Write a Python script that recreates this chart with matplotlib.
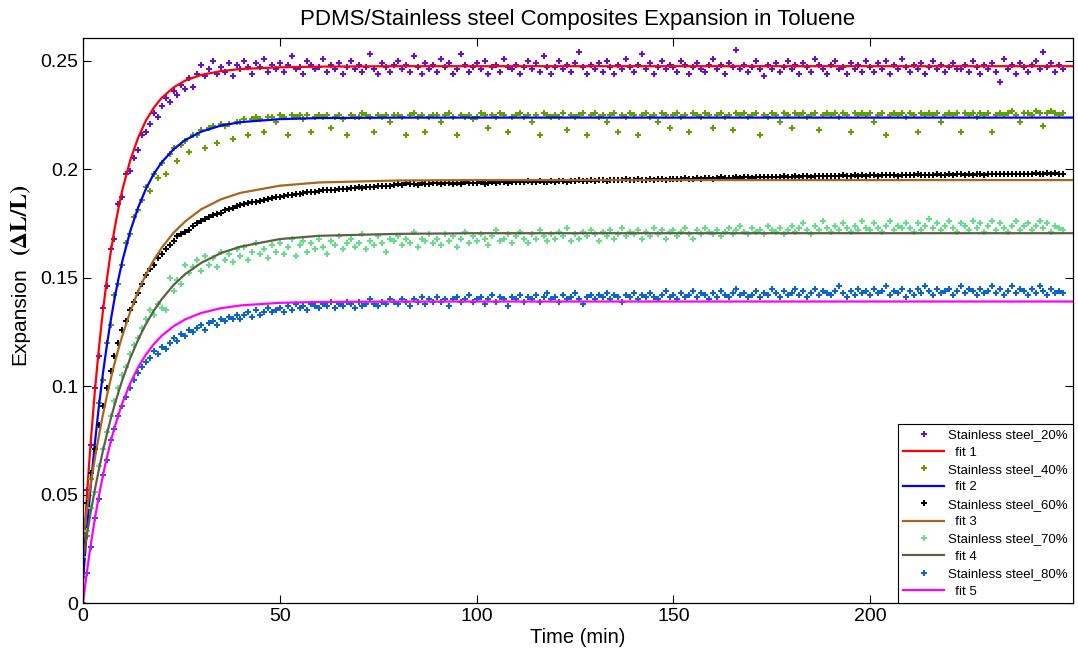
import numpy as np
import matplotlib
matplotlib.use("Agg")
import matplotlib.pyplot as plt

# 폰트 설정 (Arial 대신 Liberation Sans)
plt.rcParams['font.family'] = ['Liberation Sans', 'DejaVu Sans']

# 측정 시간 (분), 1분 간격
time_min = np.arange(0, 250)

# Stainless steel 20% 측정값
ss20 = [.021, .052, .073, .099, .114, .136, .146, .163, .168, .184,
        .187, .198, .199, .205, .209, .216, .217, .221, .226, .224,
        .229, .233, .231, .236, .234, .239, .237, .242, .238, .244,
        .248, .243, .246, .250, .244, .247, .245, .249, .243, .248,
        .246, .250, .247, .244, .249, .247, .251, .245, .248, .246,
        .249, .245, .248, .252, .246, .247, .244, .250, .248, .246,
        .247, .251, .245, .248, .246, .249, .244, .247, .250, .246,
        .248, .245, .247, .253, .246, .244, .249, .247, .245, .248,
        .250, .246, .248, .245, .252, .247, .244, .249, .246, .248,
        .245, .251, .247, .249, .244, .246, .253, .248, .245, .247,
        .249, .246, .250, .244, .247, .248, .245, .251, .247, .246,
        .248, .244, .247, .250, .246, .249, .245, .252, .247, .244,
        .247, .250, .246, .248, .245, .249, .254, .247, .244, .248,
        .246, .249, .245, .250, .247, .244, .248, .246, .251, .247,
        .245, .248, .253, .246, .249, .244, .247, .250, .246, .248,
        .247, .245, .250, .248, .244, .247, .249, .246, .245, .248,
        .251, .246, .248, .244, .249, .247, .255, .246, .248, .245,
        .247, .250, .246, .243, .248, .246, .249, .245, .247, .250,
        .246, .248, .244, .249, .247, .245, .251, .248, .246, .244,
        .248, .250, .246, .247, .244, .249, .246, .248, .245, .250,
        .247, .245, .249, .246, .250, .244, .248, .246, .251, .247,
        .245, .248, .246, .249, .244, .247, .250, .246, .248, .245,
        .247, .249, .246, .246, .248, .245, .250, .247, .244, .248,
        .246, .249, .245, .240, .251, .246, .248, .244, .249, .247,
        .245, .248, .250, .246, .254, .247, .249, .245, .248, .246]

# Stainless steel 40% 측정값
ss40 = [.012, .031, .057, .071, .092, .103, .120, .128, .142, .147,
        .156, .166, .170, .178, .181, .186, .192, .190, .198, .196,
        .203, .198, .207, .210, .204, .211, .213, .208, .216, .216,
        .218, .210, .219, .220, .212, .221, .220, .221, .214, .222,
        .222, .223, .216, .223, .224, .223, .217, .224, .224, .222,
        .225, .224, .216, .225, .224, .225, .223, .225, .217, .224,
        .225, .224, .225, .219, .224, .225, .223, .216, .225, .224,
        .224, .226, .225, .224, .217, .225, .224, .225, .222, .225,
        .225, .224, .216, .225, .226, .224, .225, .217, .224, .225,
        .225, .222, .225, .226, .224, .216, .225, .224, .225, .223,
        .224, .226, .225, .219, .225, .224, .226, .225, .217, .224,
        .225, .226, .224, .225, .222, .225, .216, .226, .225, .224,
        .225, .224, .226, .218, .225, .224, .225, .226, .216, .225,
        .226, .224, .225, .222, .225, .226, .217, .225, .224, .226,
        .225, .216, .225, .226, .224, .225, .222, .226, .225, .219,
        .225, .226, .224, .225, .217, .226, .225, .224, .226, .225,
        .219, .225, .226, .224, .225, .218, .226, .225, .226, .224,
        .225, .226, .216, .225, .224, .226, .225, .222, .226, .225,
        .219, .226, .225, .226, .224, .225, .226, .218, .225, .226,
        .225, .226, .224, .226, .225, .217, .226, .225, .226, .225,
        .226, .222, .225, .226, .216, .225, .226, .225, .226, .224,
        .226, .225, .217, .226, .225, .226, .225, .226, .222, .225,
        .226, .225, .226, .217, .226, .225, .226, .224, .226, .225,
        .226, .217, .225, .226, .225, .226, .227, .225, .222, .226,
        .226, .225, .227, .226, .220, .226, .227, .226, .225, .226]

# Stainless steel 60% 측정값
ss60 = [.0280, .0460, .0600, .0710, .0820, .0910, .0990, .1070, .1140, .1200,
        .1260, .1300, .1350, .1390, .1430, .1470, .1510, .1540, .1560, .1590,
        .1610, .1630, .1650, .1670, .1690, .1700, .1710, .1720, .1740, .1750,
        .1760, .1770, .1780, .1790, .1795, .1800, .1810, .1815, .1820, .1830,
        .1833, .1838, .1842, .1848, .1851, .1855, .1860, .1863, .1867, .1870,
        .1874, .1877, .1880, .1882, .1885, .1888, .1890, .1893, .1895, .1897,
        .1899, .1902, .1904, .1906, .1905, .1909, .1911, .1910, .1913, .1915,
        .1916, .1915, .1918, .1920, .1919, .1922, .1921, .1924, .1923, .1926,
        .1932, .1928, .1935, .1931, .1934, .1929, .1936, .1933, .1930, .1935,
        .1937, .1932, .1935, .1938, .1933, .1936, .1934, .1939, .1935, .1937,
        .1936, .1940, .1934, .1938, .1941, .1937, .1939, .1942, .1938, .1940,
        .1943, .1939, .1941, .1944, .1940, .1942, .1945, .1941, .1943, .1946,
        .1942, .1945, .1947, .1943, .1946, .1944, .1948, .1945, .1947, .1950,
        .1946, .1948, .1951, .1947, .1949, .1952, .1948, .1950, .1953, .1949,
        .1951, .1954, .1950, .1952, .1955, .1951, .1953, .1956, .1952, .1955,
        .1957, .1953, .1956, .1958, .1954, .1957, .1959, .1955, .1958, .1960,
        .1957, .1960, .1962, .1958, .1961, .1959, .1963, .1960, .1962, .1964,
        .1961, .1963, .1965, .1962, .1964, .1966, .1963, .1965, .1967, .1964,
        .1966, .1968, .1965, .1967, .1969, .1966, .1968, .1970, .1967, .1969,
        .1971, .1968, .1970, .1972, .1969, .1971, .1973, .1970, .1972, .1969,
        .1972, .1974, .1971, .1973, .1975, .1972, .1974, .1971, .1973, .1975,
        .1972, .1974, .1976, .1973, .1975, .1972, .1974, .1976, .1973, .1975,
        .1977, .1974, .1976, .1978, .1975, .1977, .1974, .1976, .1978, .1975,
        .1977, .1979, .1976, .1978, .1980, .1977, .1979, .1976, .1978, .1980,
        .1977, .1979, .1981, .1978, .1980, .1982, .1979, .1981, .1978, .1980]

# Stainless steel 70% 측정값
ss70 = [.021, .033, .044, .051, .063, .071, .079, .086, .093, .099,
        .105, .109, .115, .119, .122, .127, .131, .135, .133, .138,
        .136, .135, .150, .144, .149, .147, .156, .152, .155, .158,
        .153, .160, .156, .159, .155, .162, .158, .161, .157, .163,
        .160, .164, .158, .162, .166, .161, .163, .159, .165, .162,
        .166, .161, .164, .168, .160, .165, .167, .162, .166, .163,
        .168, .164, .161, .167, .165, .169, .163, .166, .168, .164,
        .166, .170, .163, .167, .165, .169, .166, .162, .168, .167,
        .169, .165, .168, .166, .171, .164, .168, .167, .170, .166,
        .168, .165, .170, .167, .169, .164, .168, .171, .166, .169,
        .167, .170, .168, .165, .169, .172, .167, .168, .170, .166,
        .169, .171, .168, .166, .170, .168, .172, .169, .167, .170,
        .168, .171, .169, .173, .167, .170, .168, .171, .169, .172,
        .170, .167, .171, .169, .172, .168, .170, .173, .169, .171,
        .170, .172, .168, .171, .169, .173, .170, .172, .168, .171,
        .172, .169, .171, .173, .170, .168, .172, .170, .173, .171,
        .170, .172, .169, .171, .173, .170, .172, .174, .171, .170,
        .173, .171, .172, .170, .174, .172, .171, .173, .170, .172,
        .174, .171, .173, .175, .172, .170, .174, .172, .176, .173,
        .171, .174, .172, .175, .173, .171, .174, .172, .176, .173,
        .172, .175, .173, .171, .174, .176, .172, .174, .173, .175,
        .173, .171, .175, .172, .174, .177, .173, .175, .172, .174,
        .176, .173, .171, .175, .174, .172, .176, .173, .175, .171,
        .174, .176, .172, .175, .173, .171, .174, .176, .172, .174,
        .175, .172, .174, .176, .173, .175, .171, .174, .173, .172]

# Stainless steel 80% 측정값
ss80 = [.000, .014, .026, .039, .048, .059, .066, .075, .080, .086,
        .091, .095, .099, .103, .106, .109, .111, .113, .116, .115,
        .118, .117, .120, .122, .121, .124, .123, .126, .125, .127,
        .128, .126, .129, .130, .128, .131, .130, .132, .131, .133,
        .131, .133, .134, .132, .135, .133, .134, .136, .134, .135,
        .136, .134, .137, .135, .138, .136, .137, .135, .138, .137,
        .136, .138, .137, .139, .136, .138, .137, .139, .138, .136,
        .139, .137, .138, .140, .138, .137, .139, .138, .140, .139,
        .138, .140, .139, .137, .140, .139, .141, .138, .140, .139,
        .141, .139, .140, .137, .140, .141, .139, .140, .142, .139,
        .140, .141, .138, .140, .142, .139, .141, .140, .137, .141,
        .140, .142, .139, .141, .140, .142, .139, .141, .143, .140,
        .141, .139, .142, .140, .141, .143, .140, .138, .141, .142,
        .140, .142, .141, .143, .140, .142, .141, .139, .142, .141,
        .143, .140, .142, .141, .143, .141, .140, .142, .144, .141,
        .142, .140, .143, .141, .142, .144, .141, .143, .142, .140,
        .143, .141, .144, .142, .141, .143, .145, .142, .143, .141,
        .142, .144, .141, .143, .142, .145, .143, .141, .144, .142,
        .143, .145, .142, .144, .141, .143, .145, .142, .144, .143,
        .142, .144, .146, .143, .141, .144, .142, .145, .143, .144,
        .142, .145, .143, .144, .146, .142, .144, .143, .145, .141,
        .144, .142, .145, .143, .146, .144, .142, .145, .143, .144,
        .145, .142, .144, .146, .143, .145, .144, .142, .145, .143,
        .144, .146, .143, .145, .142, .144, .146, .143, .145, .144,
        .142, .145, .143, .146, .144, .142, .145, .143, .144, .143]

# 피팅 곡선
fit_time = [0, 0.5, 1, 1.5, 2, 3, 4, 5, 6, 7, 8, 9, 10, 12, 14, 16, 18, 20,
            23, 26, 30, 35, 40, 50, 60, 80, 100, 150, 200, 251.5]
fit1 = [.020, .0352, .0495, .0627, .0751, .0974, .1168, .1337, .1483, .1612,
        .1723, .1819, .1905, .2041, .2145, .2225, .2284, .2329, .2377, .2409,
        .2435, .2452, .2462, .2470, .2473, .2475, .2475, .2475, .2475, .2475]
fit2 = [.010, .0222, .0337, .0446, .0548, .0734, .0901, .1050, .1180, .1298,
        .1402, .1494, .1577, .1714, .1823, .1910, .1979, .2032, .2092, .2135,
        .2173, .2201, .2217, .2231, .2236, .2238, .2238, .2238, .2238, .2238]
fit3 = [.030, .0368, .0432, .0494, .0554, .0665, .0767, .0863, .0949, .1029,
        .1104, .1171, .1233, .1343, .1437, .1515, .1582, .1638, .1707, .1760,
        .1815, .1861, .1891, .1924, .1939, .1948, .1950, .1950, .1950, .1950]
fit4 = [.020, .0259, .0316, .0370, .0423, .0521, .0612, .0697, .0773, .0846,
        .0912, .0972, .1029, .1129, .1214, .1287, .1348, .1401, .1466, .1517,
        .1568, .1613, .1643, .1678, .1693, .1702, .1705, .1705, .1705, .1705]
fit5 = [0, .0074, .0143, .0209, .0272, .0387, .0490, .0583, .0666, .0741,
        .0808, .0867, .0922, .1013, .1087, .1146, .1194, .1232, .1276, .1308,
        .1337, .1359, .1372, .1384, .1388, .1390, .1390, .1390, .1390, .1390]

series_labels = ['Stainless steel_20%', 'Stainless steel_40%', 'Stainless steel_60%',
                 'Stainless steel_70%', 'Stainless steel_80%']
fit_labels = ['  fit 1', '  fit 2', '  fit 3', '  fit 4', '  fit 5']
point_colors = ['#6A10CC', '#62A000', '#000000', '#66DD88', '#0A66C8']
fit_colors = ['#FF0000', '#0000FF', '#A8661C', '#5F5F48', '#FF00FF']

fig = plt.figure(figsize=(10.78, 6.55), dpi=100)
ax = fig.add_axes([83 / 1078, 1 - 603 / 655, (1073 - 83) / 1078, (603 - 38) / 655])

# 측정값 + 피팅 곡선 순서대로 그림 (범례 순서와 동일)
for pts, fit, pc, fc, pl, fl in zip([ss20, ss40, ss60, ss70, ss80],
                                     [fit1, fit2, fit3, fit4, fit5],
                                     point_colors, fit_colors, series_labels, fit_labels):
    ax.plot(time_min, pts, linestyle='none', marker='P', markersize=4.6,
            markeredgewidth=0, color=pc, label=pl)
    ax.plot(fit_time, fit, color=fc, linewidth=1.6, label=fl)

ax.set_xlim(0, 251.5)
ax.set_ylim(0, 0.2605)
ax.set_xticks([0, 50, 100, 150, 200])
ax.set_yticks([0, 0.05, 0.1, 0.15, 0.2, 0.25])
ax.set_yticklabels(['0', '0.05', '0.1', '0.15', '0.2', '0.25'])
ax.tick_params(direction='in', top=True, right=True, length=6, width=0.8, labelsize=14)
for s in ax.spines.values():
    s.set_linewidth(0.9)

ax.set_title('PDMS/Stainless steel Composites Expansion in Toluene', fontsize=16, pad=9)
ax.set_xlabel('Time (min)', fontsize=14.5, labelpad=2)

# y축 제목: 일반 글꼴 + 굵은 세리프 (ΔL/L)
fig.text(20 / 1078, 1 - 316 / 655, 'Expansion', rotation=90, fontsize=15,
         ha='center', va='center')
fig.text(20 / 1078, 1 - 218 / 655, '(ΔL/L)', rotation=90, fontsize=17,
         family='STIXGeneral', weight='bold', ha='center', va='center')

leg = ax.legend(loc='lower right', borderaxespad=0, fontsize=9.5, fancybox=False,
                edgecolor='black', framealpha=1, handlelength=3.1, labelspacing=0.39,
                borderpad=0.4, handletextpad=0.3, numpoints=1)
leg.get_frame().set_linewidth(0.8)

fig.savefig('out.png', dpi=100)
